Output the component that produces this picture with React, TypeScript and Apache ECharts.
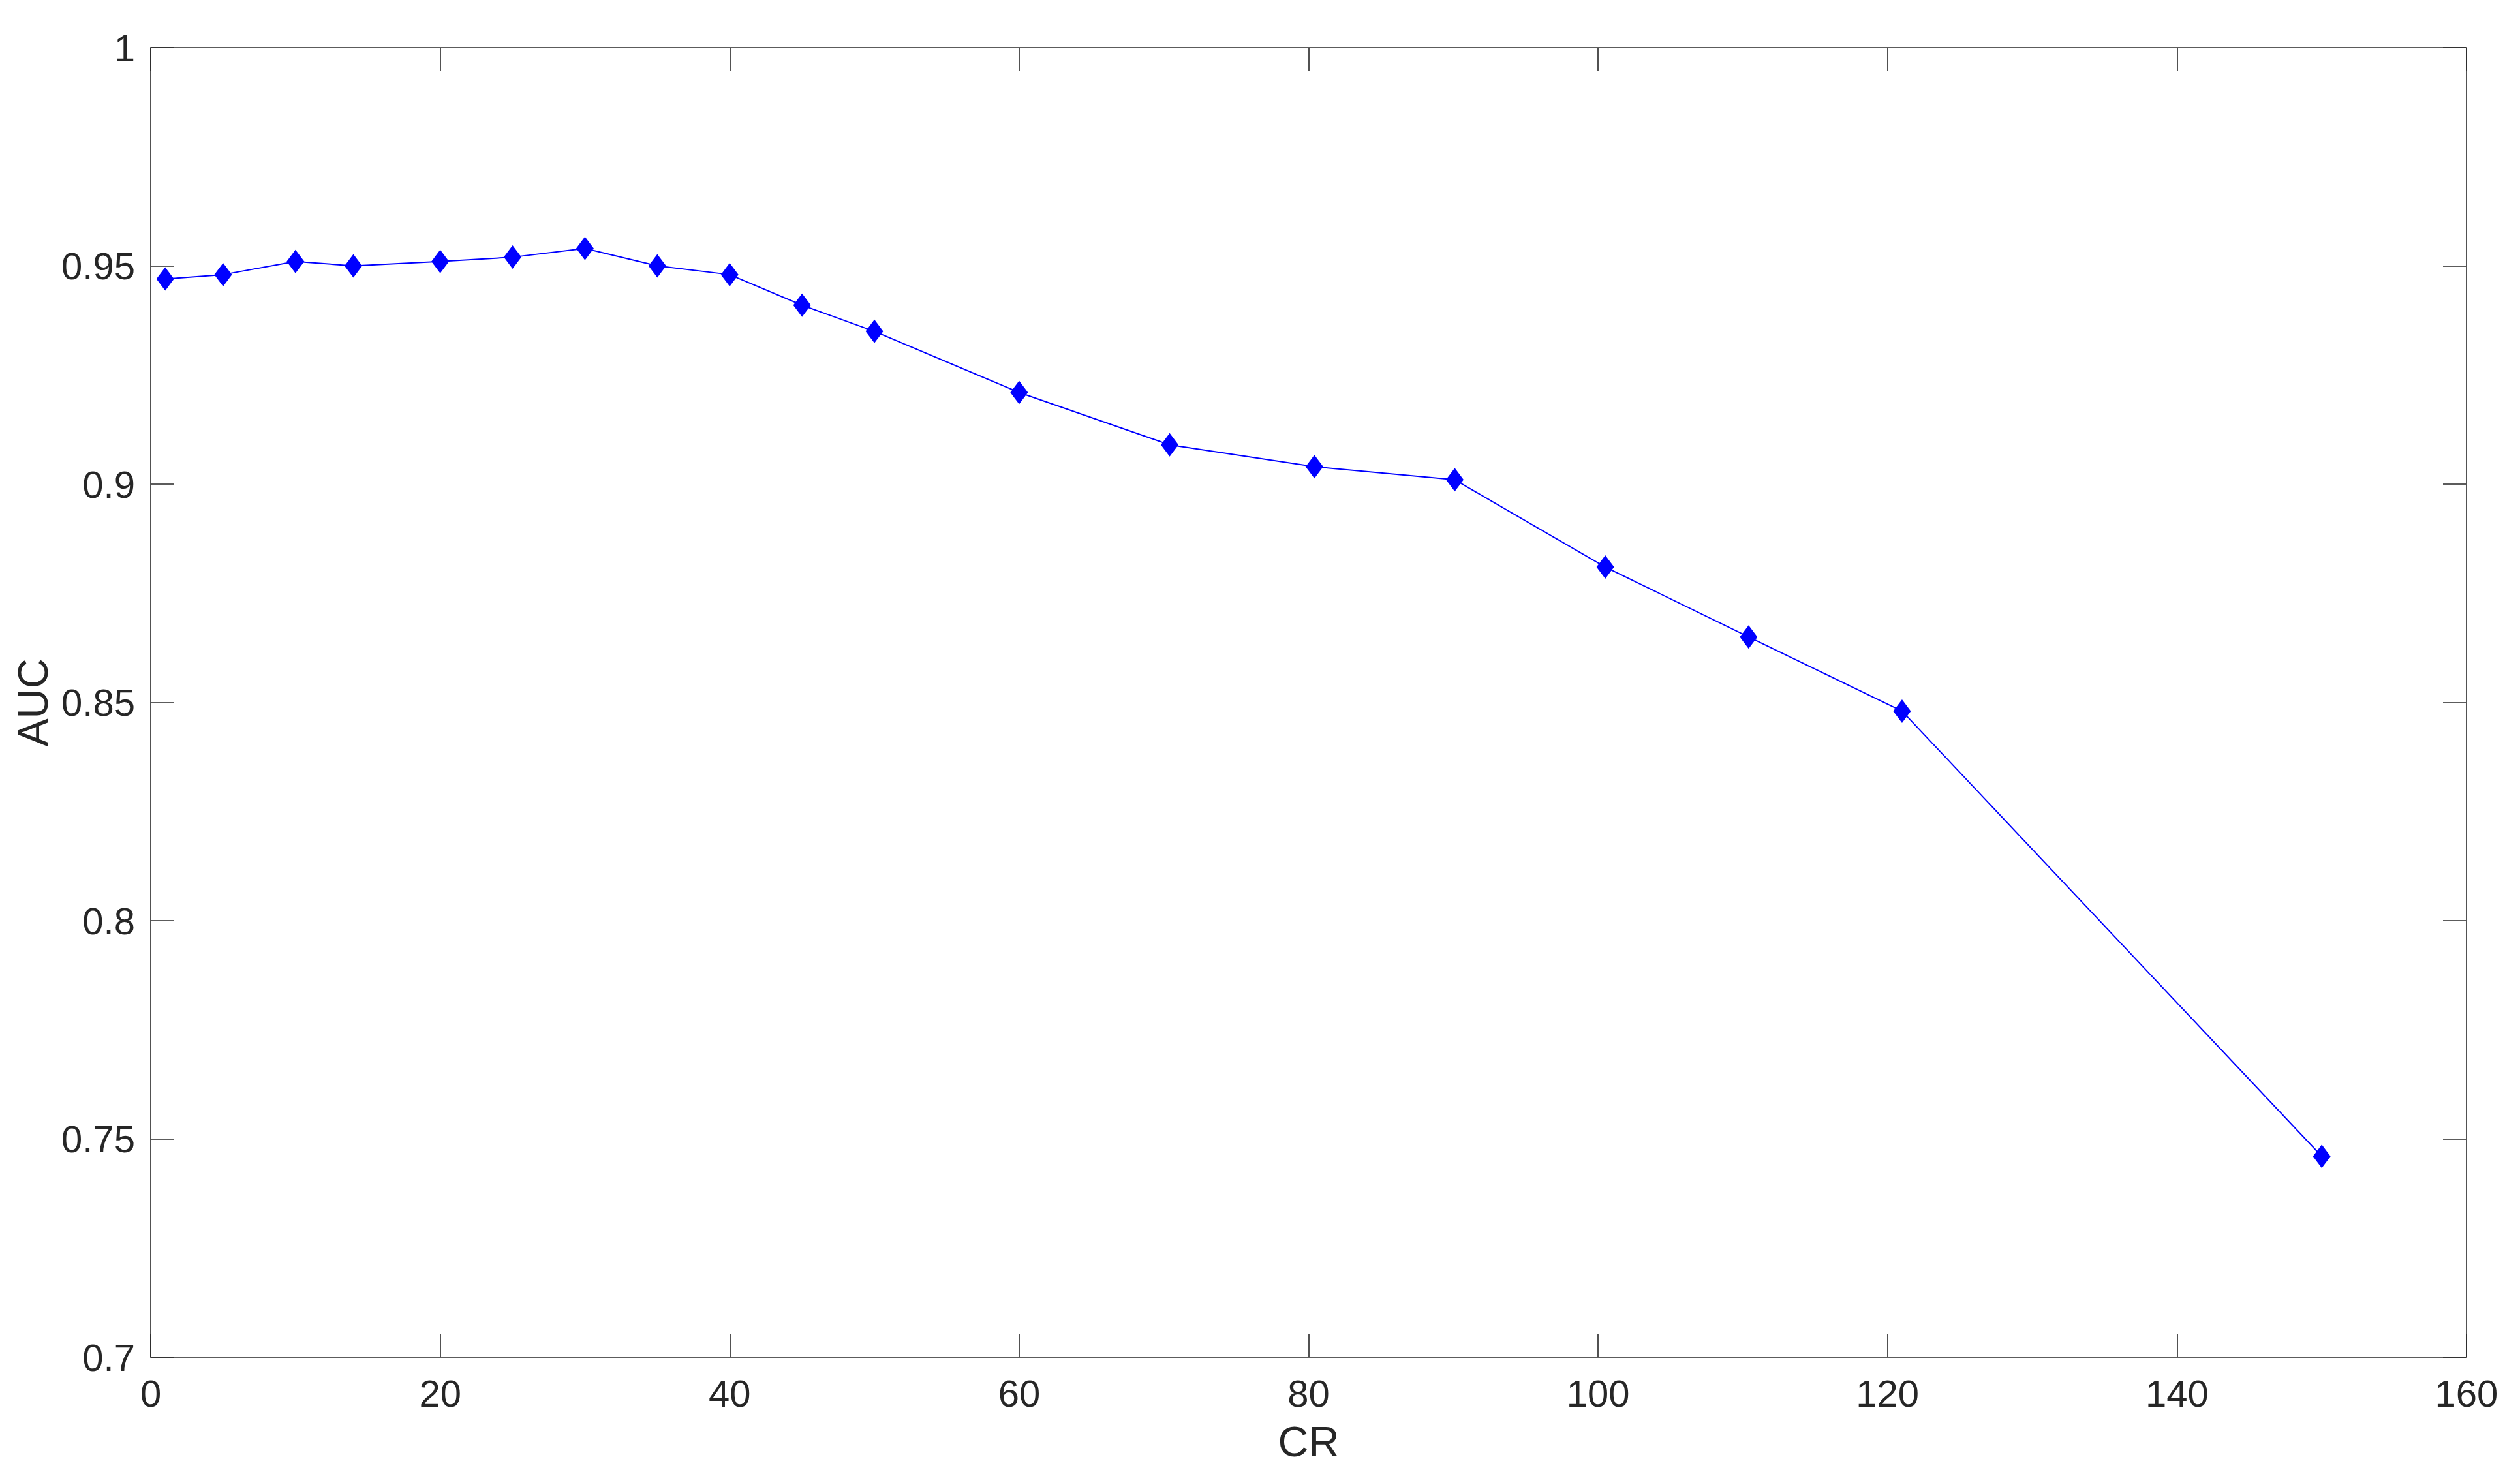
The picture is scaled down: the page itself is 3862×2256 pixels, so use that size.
import React, { useEffect, useRef } from "react";
import * as echarts from "echarts";

const crValues: number[] = [1, 5, 10, 14, 20, 25, 30, 35, 40, 45, 50, 60, 70.4, 80.4, 90.1, 100.5, 110.4, 121, 150];
const aucValues: number[] = [0.947, 0.948, 0.951, 0.95, 0.951, 0.952, 0.954, 0.95, 0.948, 0.941, 0.935, 0.921, 0.909, 0.904, 0.901, 0.881, 0.865, 0.848, 0.746];
const xTickLabels: string[] = ["0", "20", "40", "60", "80", "100", "120", "140", "160"];
const yTickLabels: string[] = ["0.7", "0.75", "0.8", "0.85", "0.9", "0.95", "1"];

const AXIS_COLOR = "#262626";
const FONT = "'Liberation Sans', Arial, Helvetica, sans-serif";

export default function App() {
  const ref = useRef<HTMLDivElement | null>(null);

  useEffect(() => {
    document.body.style.margin = "0";
    if (!ref.current) return;
    const chart = echarts.init(ref.current, undefined, { renderer: "svg" });

    const xLabelSet = new Set(xTickLabels);
    const yLabelSet = new Set(yTickLabels);

    const axisLineStyle = { color: AXIS_COLOR, width: 1.6 };
    const tickCommon = { show: true, inside: true, length: 36, lineStyle: { color: AXIS_COLOR, width: 1.6 } };

    const option: any = {
      animation: false,
      backgroundColor: "#ffffff",
      grid: { left: 231, right: 82, top: 73, bottom: 176, containLabel: false },
      xAxis: [
        {
          type: "value",
          position: "bottom",
          min: 0,
          max: 160,
          interval: 20,
          name: "CR",
          nameLocation: "middle",
          nameGap: 97,
          nameTextStyle: { fontFamily: FONT, fontSize: 65, color: AXIS_COLOR },
          axisLine: { show: true, onZero: false, lineStyle: axisLineStyle },
          axisTick: tickCommon,
          splitLine: { show: false },
          axisLabel: {
            show: true,
            margin: 26,
            fontFamily: FONT,
            fontSize: 58,
            color: AXIS_COLOR,
            formatter: (v: number) => (xLabelSet.has(String(v)) ? String(v) : ""),
          },
        },
        {
          type: "value",
          position: "top",
          min: 0,
          max: 160,
          interval: 20,
          axisLine: { show: true, onZero: false, lineStyle: axisLineStyle },
          axisTick: tickCommon,
          axisLabel: { show: false },
          splitLine: { show: false },
        },
      ],
      yAxis: [
        {
          type: "value",
          position: "left",
          min: 0.7,
          max: 1,
          interval: 0.05,
          name: "AUC",
          nameLocation: "middle",
          nameGap: 146,
          nameRotate: 90,
          nameTextStyle: { fontFamily: FONT, fontSize: 64, color: AXIS_COLOR },
          axisLine: { show: true, onZero: false, lineStyle: axisLineStyle },
          axisTick: tickCommon,
          splitLine: { show: false },
          axisLabel: {
            show: true,
            margin: 24,
            fontFamily: FONT,
            fontSize: 58,
            color: AXIS_COLOR,
            formatter: (v: number) => {
              const s = String(Math.round(v * 100) / 100);
              return yLabelSet.has(s) ? s : "";
            },
          },
        },
        {
          type: "value",
          position: "right",
          min: 0.7,
          max: 1,
          interval: 0.05,
          axisLine: { show: true, onZero: false, lineStyle: axisLineStyle },
          axisTick: tickCommon,
          axisLabel: { show: false },
          splitLine: { show: false },
        },
      ],
      series: [
        {
          type: "line",
          xAxisIndex: 0,
          yAxisIndex: 0,
          data: crValues.map((x, i) => [x, aucValues[i]]),
          symbol: "diamond",
          symbolSize: [27, 36],
          showAllSymbol: true,
          lineStyle: { color: "#0000ff", width: 2 },
          itemStyle: { color: "#0000ff", borderWidth: 0 },
          emphasis: { disabled: true },
          z: 5,
        },
      ],
    };

    chart.setOption(option);
    return () => {
      chart.dispose();
    };
  }, []);

  return <div ref={ref} style={{ width: 3862, height: 2256 }} />;
}
